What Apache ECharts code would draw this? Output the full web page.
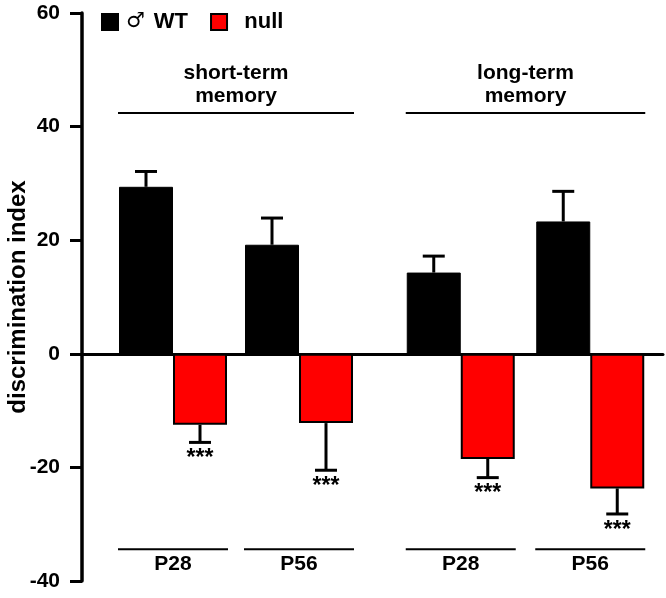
<!DOCTYPE html>
<html><head><meta charset="utf-8">
<script src="https://cdn.jsdelivr.net/npm/echarts@6/dist/echarts.min.js"></script>
<style>html,body{margin:0;padding:0;background:#fff}#c{width:666px;height:598px}</style>
</head><body><div id="c"></div>
<script>
// ---- data ----
const categories = ['P28', 'P56'];
const groupNames = ['short-term\nmemory', 'long-term\nmemory'];
const seriesNames = ['♂ WT', 'null'];
const wtShort = [29.4, 19.2];
const wtShortErr = [2.7, 4.7];
const nullShort = [-12.5, -12.2];
const nullShortErr = [3.1, 8.3];
const wtLong = [14.3, 23.3];
const wtLongErr = [2.9, 5.3];
const nullLong = [-18.5, -23.7];
const nullLongErr = [3.3, 4.5];
const nullSig = ['***', '***'];
const yMin = -40, yMax = 60, yStep = 20;
const yName = 'discrimination index';

// ---- layout / style ----
const FONT = '"Liberation Sans", Arial, Helvetica, sans-serif';
const BAR_W = 54;
const HALF = BAR_W / 2;
const PAIR_HALF = 55;
const TOP_LEVEL = 42.4;
const BOTTOM_LEVEL = -34.4;

const chart = echarts.init(document.getElementById('c'));

function errSeries(g, values, errs, side, sig) {
  return {
    type: 'custom', xAxisIndex: g, yAxisIndex: g, z: 5, silent: true,
    data: values.map((v, i) => [i, v, errs[i]]),
    encode: { x: 0, y: 1 },
    renderItem(params, api) {
      const i = api.value(0), v = api.value(1), e = api.value(2);
      const base = api.coord([i, v]);
      const tip = api.coord([i, v + Math.sign(v) * e]);
      const x = base[0] + side * HALF;
      const children = [
        { type: 'line', shape: { x1: x, y1: base[1], x2: x, y2: tip[1] }, style: { stroke: '#000', lineWidth: 3 } },
        { type: 'line', shape: { x1: x - 11, y1: tip[1], x2: x + 11, y2: tip[1] }, style: { stroke: '#000', lineWidth: 3 } }
      ];
      if (sig) {
        children.push({ type: 'text', style: { text: sig[params.dataIndex], x: x, y: tip[1] + 5, align: 'center', verticalAlign: 'top', font: 'bold 23px ' + FONT, fill: '#000' } });
      }
      return { type: 'group', children };
    }
  };
}

function bracketSeries(g, label) {
  return {
    type: 'custom', xAxisIndex: g, yAxisIndex: g, silent: true, z: 1,
    data: categories.map((c, i) => [i, BOTTOM_LEVEL]),
    encode: { x: 0, y: 1 },
    renderItem(params, api) {
      const i = params.dataIndex;
      const b = api.coord([i, BOTTOM_LEVEL]);
      const children = [
        { type: 'line', shape: { x1: b[0] - PAIR_HALF, y1: b[1], x2: b[0] + PAIR_HALF, y2: b[1] }, style: { stroke: '#000', lineWidth: 2 } }
      ];
      if (i === 0) {
        const a = api.coord([0, TOP_LEVEL]);
        const z = api.coord([categories.length - 1, TOP_LEVEL]);
        children.push({ type: 'line', shape: { x1: a[0] - PAIR_HALF, y1: a[1], x2: z[0] + PAIR_HALF, y2: a[1] }, style: { stroke: '#000', lineWidth: 2 } });
        children.push({ type: 'text', style: { text: label, x: (a[0] + z[0]) / 2, y: a[1] - 5, align: 'center', verticalAlign: 'bottom', font: 'bold 21px ' + FONT, lineHeight: 23, fill: '#000' } });
      }
      return { type: 'group', children };
    }
  };
}

function catAxis(g) {
  return {
    gridIndex: g, type: 'category', data: categories, position: 'bottom', offset: -34,
    axisLine: { show: false, onZero: false }, axisTick: { show: false }, splitLine: { show: false },
    axisLabel: { margin: 7, color: '#000', fontFamily: FONT, fontWeight: 'bold', fontSize: 21 }
  };
}
function hiddenY(g) {
  return { gridIndex: g, type: 'value', min: yMin, max: yMax, interval: yStep, show: false };
}

const option = {
  animation: false,
  backgroundColor: '#fff',
  legend: {
    left: 101, top: 11, padding: 0, itemWidth: 16, itemHeight: 16, itemGap: 22, icon: 'rect',
    selectedMode: false, data: seriesNames,
    formatter: n => n === seriesNames[0] ? '{m|♂}{w|WT}' : '  ' + n,
    textStyle: { color: '#000', fontFamily: FONT, fontWeight: 'bold', fontSize: 22,
      rich: {
        m: { fontFamily: '"DejaVu Sans", sans-serif', fontWeight: 'normal', fontSize: 21, color: '#000', padding: [0, 0, 0, 3] },
        w: { fontFamily: FONT, fontWeight: 'bold', fontSize: 22, color: '#000', padding: [0, 0, 0, 9] }
      } }
  },
  grid: [
    { left: 82, right: 3, top: 13, bottom: 17, containLabel: false, outerBoundsMode: 'none' },
    { left: 110, right: 304, top: 13, bottom: 17, containLabel: false, outerBoundsMode: 'none' },
    { left: 396, right: 11, top: 13, bottom: 17, containLabel: false, outerBoundsMode: 'none' }
  ],
  xAxis: [
    { gridIndex: 0, type: 'value', min: 0, max: 1,
      axisLine: { show: true, onZero: true, lineStyle: { color: '#000', width: 3 } },
      axisTick: { show: false }, axisLabel: { show: false }, splitLine: { show: false } },
    catAxis(1), catAxis(2)
  ],
  yAxis: [
    { gridIndex: 0, type: 'value', min: yMin, max: yMax, interval: yStep,
      name: yName, nameLocation: 'middle', nameGap: 52, nameMoveOverlap: false,
      nameTextStyle: { color: '#000', fontFamily: FONT, fontWeight: 'bold', fontSize: 24 },
      axisLine: { show: true, lineStyle: { color: '#000', width: 3.5 } },
      axisTick: { show: true, length: 12, lineStyle: { color: '#000', width: 3 } },
      axisLabel: { margin: 22, color: '#000', fontFamily: FONT, fontWeight: 'bold', fontSize: 21 },
      splitLine: { show: false } },
    hiddenY(1), hiddenY(2)
  ],
  series: [
    { type: 'bar', name: seriesNames[0], xAxisIndex: 1, yAxisIndex: 1, data: wtShort, barWidth: BAR_W, barGap: '0%',
      itemStyle: { color: '#000', borderColor: '#000', borderWidth: 1 } },
    { type: 'bar', name: seriesNames[1], xAxisIndex: 1, yAxisIndex: 1, data: nullShort, barWidth: BAR_W, barGap: '0%',
      itemStyle: { color: '#ff0000', borderColor: '#000', borderWidth: 2 } },
    { type: 'bar', name: seriesNames[0], xAxisIndex: 2, yAxisIndex: 2, data: wtLong, barWidth: BAR_W, barGap: '0%',
      itemStyle: { color: '#000', borderColor: '#000', borderWidth: 1 } },
    { type: 'bar', name: seriesNames[1], xAxisIndex: 2, yAxisIndex: 2, data: nullLong, barWidth: BAR_W, barGap: '0%',
      itemStyle: { color: '#ff0000', borderColor: '#000', borderWidth: 2 } },
    errSeries(1, wtShort, wtShortErr, -1, null),
    errSeries(1, nullShort, nullShortErr, 1, nullSig),
    errSeries(2, wtLong, wtLongErr, -1, null),
    errSeries(2, nullLong, nullLongErr, 1, nullSig),
    bracketSeries(1, groupNames[0]),
    bracketSeries(2, groupNames[1])
  ]
};
chart.setOption(option);
</script>
</body></html>
